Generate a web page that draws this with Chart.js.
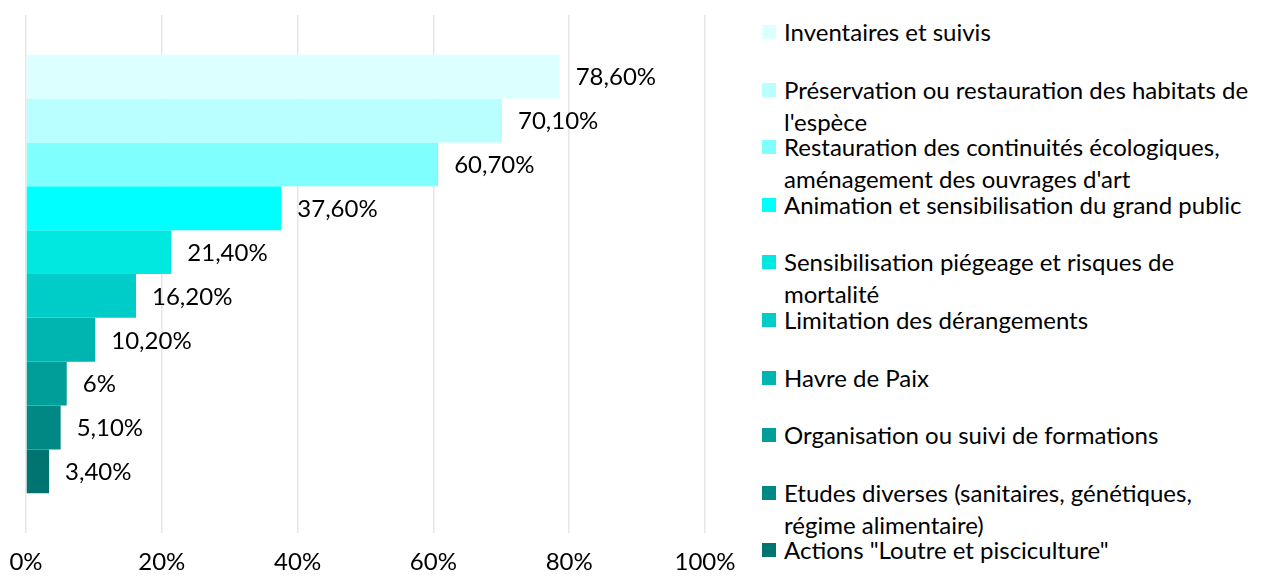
<!DOCTYPE html>
<html lang="fr">
<head>
    <meta charset="UTF-8">
    <title>Actions</title>
    <style>
        body {
            margin: 0;
            padding: 0;
            background: #ffffff;
            overflow: hidden;
            font-family: Lato, "Noto Sans", sans-serif;
        }

        .wrap {
            position: relative;
            width: 1276px;
            height: 578px;
        }

        .chart-container {
            position: absolute;
            left: 0;
            top: 0;
            width: 740px;
            height: 578px;
        }

        #legend {
            position: absolute;
            left: 762px;
            top: 16px;
            margin: 0;
            padding: 0;
            list-style: none;
            font-size: 24px;
            line-height: 32px;
            color: #000;
        }

        #legend li {
            position: relative;
            height: 57.6px;
            white-space: nowrap;
        }

        #legend .box {
            position: absolute;
            left: 0;
            top: 9px;
            width: 14px;
            height: 14px;
        }

        #legend .txt {
            margin-left: 22px;
        }
    </style>
    <script src="https://cdn.jsdelivr.net/npm/chart.js"></script>
</head>
<body>
    <div class="wrap">
        <div class="chart-container">
            <canvas id="myChart"></canvas>
        </div>
        <ul id="legend"></ul>
    </div>
    <script>
        // Données (en %)
        const categories = [
            ['Inventaires et suivis'],
            ['Préservation ou restauration des habitats de', "l'espèce"],
            ['Restauration des continuités écologiques,', "aménagement des ouvrages d'art"],
            ['Animation et sensibilisation du grand public'],
            ['Sensibilisation piégeage et risques de', 'mortalité'],
            ['Limitation des dérangements'],
            ['Havre de Paix'],
            ['Organisation ou suivi de formations'],
            ['Etudes diverses (sanitaires, génétiques,', 'régime alimentaire)'],
            ['Actions "Loutre et pisciculture"']
        ];
        const values = [78.6, 70.1, 60.7, 37.6, 21.4, 16.2, 10.2, 6, 5.1, 3.4];
        const colors = ['#dcffff', '#b9ffff', '#80ffff', '#00ffff', '#00e8e0',
                        '#00ccc8', '#00b5b0', '#009e99', '#008885', '#007470'];
        const xTicks = [0, 20, 40, 60, 80, 100];

        const FONT = 'Lato, "Noto Sans", sans-serif';

        function formatPct(v) {
            return Number.isInteger(v) ? v + '%' : v.toFixed(2).replace('.', ',') + '%';
        }

        // Étiquettes de valeur à droite des barres
        const valueLabels = {
            id: 'valueLabels',
            afterDatasetsDraw(chart) {
                const ctx = chart.ctx;
                ctx.save();
                ctx.font = '24px ' + FONT;
                ctx.fillStyle = '#000';
                ctx.textAlign = 'left';
                ctx.textBaseline = 'middle';
                chart.data.datasets.forEach((ds, i) => {
                    const bar = chart.getDatasetMeta(i).data[0];
                    ctx.fillText(formatPct(ds.data[0]), bar.x + 16, bar.y + 1);
                });
                ctx.restore();
            }
        };

        const ctx = document.getElementById('myChart').getContext('2d');
        const myChart = new Chart(ctx, {
            type: 'bar',
            data: {
                labels: [''],
                datasets: categories.map((c, i) => ({
                    label: c.join(' '),
                    data: [values[i]],
                    backgroundColor: colors[i],
                    borderWidth: 0,
                    categoryPercentage: 0.847,
                    barPercentage: 1
                }))
            },
            options: {
                indexAxis: 'y',
                responsive: true,
                maintainAspectRatio: false,
                animation: false,
                layout: {
                    padding: { top: 15, left: 26, right: 35, bottom: 0 }
                },
                plugins: {
                    legend: { display: false },
                    tooltip: { enabled: false }
                },
                scales: {
                    x: {
                        min: 0,
                        max: 100,
                        afterBuildTicks: (axis) => {
                            axis.ticks = xTicks.map(v => ({ value: v }));
                        },
                        afterFit: (axis) => {
                            axis.height = 45;
                            axis.paddingLeft = 0;
                            axis.paddingRight = 0;
                        },
                        grid: {
                            color: '#e6e6e6',
                            lineWidth: 1.5,
                            drawTicks: false
                        },
                        border: { display: false },
                        ticks: {
                            padding: 15,
                            color: '#000',
                            font: { family: FONT, size: 24 },
                            callback: v => v + '%'
                        }
                    },
                    y: {
                        display: false
                    }
                }
            },
            plugins: [valueLabels]
        });

        // Légende HTML (les libellés longs sont sur deux lignes)
        const legend = document.getElementById('legend');
        categories.forEach((lines, i) => {
            const li = document.createElement('li');
            const box = document.createElement('span');
            box.className = 'box';
            box.style.background = colors[i];
            const txt = document.createElement('div');
            txt.className = 'txt';
            txt.innerHTML = lines.map(l => l.replace(/&/g, '&amp;').replace(/</g, '&lt;')).join('<br>');
            li.appendChild(box);
            li.appendChild(txt);
            legend.appendChild(li);
        });
    </script>
</body>
</html>
